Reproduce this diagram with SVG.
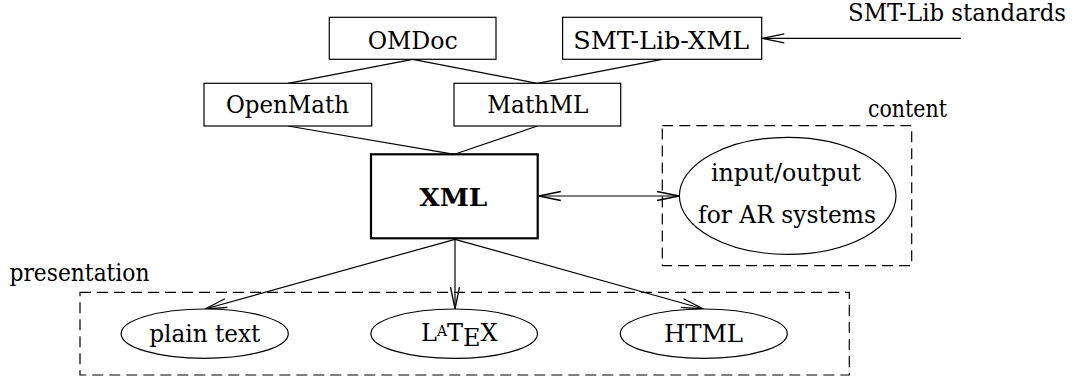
<svg xmlns="http://www.w3.org/2000/svg" width="1077" height="376" viewBox="0 0 1077 376">
<style>
  .box { fill: #fff; stroke: #000; stroke-width: 1.2; }
  .thick { fill: #fff; stroke: #000; stroke-width: 2.2; }
  .ell { fill: #fff; stroke: #000; stroke-width: 1.2; }
  .dash { fill: none; stroke: #000; stroke-width: 1.2; stroke-dasharray: 11 6; }
  .edge { fill: none; stroke: #000; stroke-width: 1.2; }
  text { font-family: 'DejaVu Serif', 'Liberation Serif', serif; font-size: 24px; fill: #000; }
  .bold { font-weight: bold; }
</style>
<defs>
  <marker id="arr" markerUnits="userSpaceOnUse" markerWidth="26" markerHeight="12" viewBox="-24 -6 26 12" refX="0" refY="0" orient="auto-start-reverse">
    <path d="M -22 -4.5 L 0 0 L -22 4.5" fill="none" stroke="#000" stroke-width="1.3"/>
  </marker>
</defs>

<g id="groups">
  <rect class="dash" x="662.3" y="125.7" width="249.4" height="140"/>
  <text x="868" y="116.5" textLength="79" lengthAdjust="spacingAndGlyphs">content</text>
  <rect class="dash" x="80" y="292.3" width="769.3" height="82.7"/>
  <text x="9.5" y="280.5" textLength="140" lengthAdjust="spacingAndGlyphs">presentation</text>
</g>

<g id="connectors">
  <line class="edge" x1="412.7" y1="59.3" x2="288" y2="83.3"/>
  <line class="edge" x1="412.7" y1="59.3" x2="537.3" y2="83.3"/>
  <line class="edge" x1="662.2" y1="59.3" x2="537.3" y2="83.3"/>
  <line class="edge" x1="288" y1="126" x2="454.5" y2="154.3"/>
  <line class="edge" x1="537.3" y1="126" x2="454.5" y2="154.3"/>
  <line class="edge" x1="961" y1="38.3" x2="762.3" y2="38.3" marker-end="url(#arr)"/>
  <line class="edge" x1="538.8" y1="196" x2="679" y2="196" marker-start="url(#arr)" marker-end="url(#arr)"/>
  <line class="edge" x1="455" y1="239.3" x2="205" y2="309" marker-end="url(#arr)"/>
  <line class="edge" x1="455" y1="239.3" x2="455" y2="309" marker-end="url(#arr)"/>
  <line class="edge" x1="455" y1="239.3" x2="703.5" y2="309" marker-end="url(#arr)"/>
</g>

<g id="OMDoc">
  <rect class="box" x="329.3" y="17.3" width="166.7" height="42"/>
  <text x="367.7" y="49.3" textLength="90" lengthAdjust="spacingAndGlyphs">OMDoc</text>
</g>
<g id="SMTLibXML">
  <rect class="box" x="562.6" y="17.3" width="199.1" height="42"/>
  <text x="573.2" y="49.3" textLength="176" lengthAdjust="spacingAndGlyphs">SMT-Lib-XML</text>
</g>
<g id="SMTLibStandards">
  <text x="848" y="21.2" textLength="218" lengthAdjust="spacingAndGlyphs">SMT-Lib standards</text>
</g>
<g id="OpenMath">
  <rect class="box" x="204" y="83.3" width="167.7" height="42.7"/>
  <text x="226" y="112.7" textLength="123" lengthAdjust="spacingAndGlyphs">OpenMath</text>
</g>
<g id="MathML">
  <rect class="box" x="454" y="83.3" width="166.7" height="42.7"/>
  <text x="487.3" y="112.7" textLength="101" lengthAdjust="spacingAndGlyphs">MathML</text>
</g>
<g id="XML">
  <rect class="thick" x="371" y="154.3" width="166.7" height="84"/>
  <text class="bold" x="419.3" y="205.7" textLength="68" lengthAdjust="spacingAndGlyphs">XML</text>
</g>
<g id="ARsystems">
  <ellipse class="ell" cx="787.7" cy="195.8" rx="108.3" ry="58.5"/>
  <text x="711" y="181" textLength="150" lengthAdjust="spacingAndGlyphs">input/output</text>
  <text x="698" y="222.5" textLength="178" lengthAdjust="spacingAndGlyphs">for AR systems</text>
</g>
<g id="plaintext">
  <ellipse class="ell" cx="204.7" cy="333.7" rx="83.6" ry="24.7"/>
  <text x="149.3" y="341.5" textLength="111" lengthAdjust="spacingAndGlyphs">plain text</text>
</g>
<g id="LaTeX">
  <ellipse class="ell" cx="454.2" cy="333.7" rx="83.3" ry="24.7"/>
  <text x="421" y="341" font-size="21">L<tspan font-size="14" dy="-5">A</tspan><tspan dy="5">T</tspan><tspan dy="5">E</tspan><tspan dy="-5">X</tspan></text>
</g>
<g id="HTML">
  <ellipse class="ell" cx="703.8" cy="333.7" rx="83.5" ry="24.7"/>
  <text x="664" y="342" textLength="79" lengthAdjust="spacingAndGlyphs">HTML</text>
</g>
</svg>
